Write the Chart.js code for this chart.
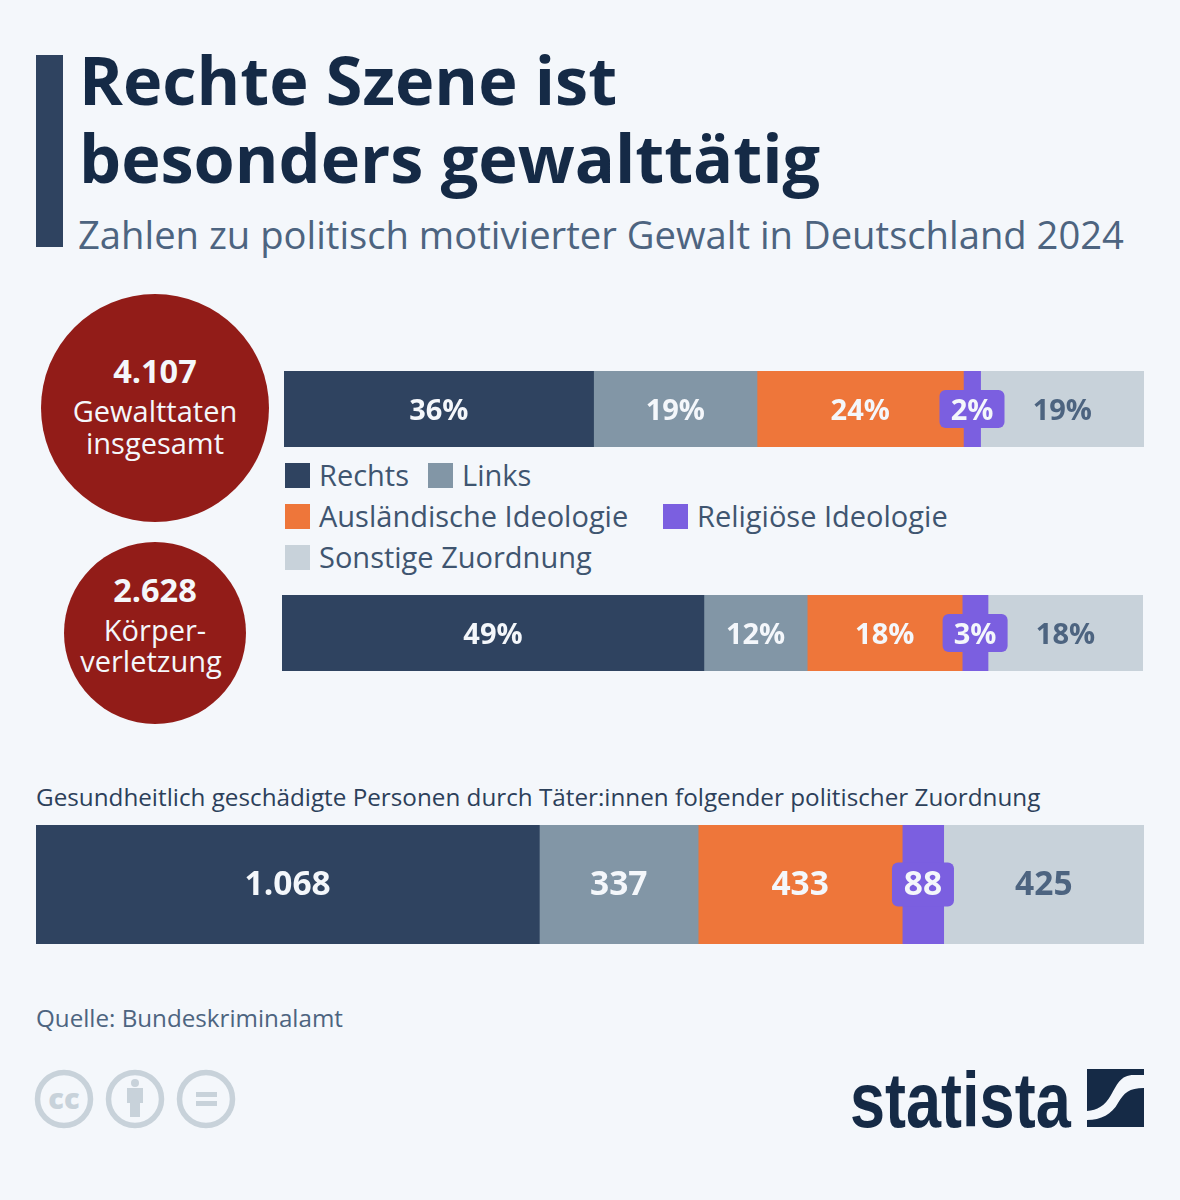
<!DOCTYPE html>
<html lang="de">
<head>
<meta charset="utf-8">
<title>Rechte Szene ist besonders gewalttätig</title>
<script src="https://cdn.jsdelivr.net/npm/chart.js@4"></script>
<style>
  html, body { margin: 0; padding: 0; background: #f4f7fb; }
  #page { position: relative; width: 1180px; height: 1200px; overflow: hidden; font-family: "Open Sans", sans-serif; }
  .t { position: absolute; white-space: nowrap; }
  .box { position: absolute; }
  canvas { display: block; }
  .title { left: 79px; color: #152a46; font-weight: 700; font-size: 66.6px; line-height: 78px; }
  .circle { position: absolute; border-radius: 50%; background: #921c18; color: #f4f7fb; text-align: center; }
  .circle .t { left: 0; right: 0; line-height: 32px; font-size: 29px; }
  .circle b { font-size: 32.5px; font-weight: 700; }
  .lg { color: #3f5570; font-size: 29px; line-height: 34px; }
  .sw { position: absolute; width: 25px; height: 25px; }
</style>
</head>
<body>
<div id="page">
  <div class="box" style="left:36px;top:55px;width:27px;height:192px;background:#2f4360"></div>
  <div class="t title" style="top:41px">Rechte Szene ist<br>besonders gewalttätig</div>
  <div class="t" style="left:78px;top:208px;font-size:38.2px;line-height:52px;color:#4d6480">Zahlen zu politisch motivierter Gewalt in Deutschland 2024</div>

  <div class="circle" style="left:41px;top:294px;width:228px;height:228px">
    <div class="t" style="top:61px"><b>4.107</b></div>
    <div class="t" style="top:101px">Gewalttaten<br>insgesamt</div>
  </div>
  <div class="circle" style="left:64px;top:542px;width:182px;height:182px">
    <div class="t" style="top:32px"><b>2.628</b></div>
    <div class="t" style="top:72px;line-height:31px">Körper-<br><span style="position:relative;left:-4px">verletzung</span></div>
  </div>

  <div class="box" style="left:284px;top:371px;width:860px;height:76px"><canvas id="gewalt" width="860" height="76"></canvas></div>
  <div class="box" style="left:282px;top:595px;width:861px;height:76px"><canvas id="koerper" width="861" height="76"></canvas></div>
  <div class="box" style="left:36px;top:825px;width:1108px;height:119px"><canvas id="personen" width="1108" height="119"></canvas></div>

  <div id="legend"></div>

  <div class="t" style="left:36px;top:781px;font-size:24.25px;line-height:32px;color:#2c405a">Gesundheitlich geschädigte Personen durch Täter:innen folgender politischer Zuordnung</div>
  <div class="t" style="left:36px;top:1003px;font-size:24.2px;line-height:30px;color:#4d6480">Quelle: Bundeskriminalamt</div>

  <svg class="box" style="left:30px;top:1065px" width="215" height="70" viewBox="0 0 215 70">
    <g fill="none" stroke="#c8d2da" stroke-width="5.5">
      <circle cx="34" cy="34" r="26.5"/>
      <circle cx="105" cy="34" r="26.5"/>
      <circle cx="176" cy="34" r="26.5"/>
    </g>
    <text x="34" y="44" text-anchor="middle" font-family="Open Sans" font-weight="800" font-size="29" fill="#c8d2da">cc</text>
    <g fill="#c8d2da">
      <circle cx="105" cy="18" r="4"/>
      <path d="M97 23h16v15h-3v14h-10v-14h-3z"/>
      <rect x="166" y="27" width="21" height="5"/>
      <rect x="166" y="36" width="21" height="5"/>
    </g>
  </svg>

  <div class="t" style="left:850px;top:1055px;font-family:'Liberation Sans';font-weight:700;font-size:78px;line-height:90px;color:#152a46;transform:scaleX(.808);transform-origin:left center">statista</div>
  <svg class="box" style="left:1087px;top:1069px" width="58" height="59" viewBox="0 0 58 59">
    <path fill="#152a46" d="M0 0H57V6H47C33 6 30 16 24 26C18 37 10 41 0 42Z"/>
    <path fill="#152a46" d="M57 19V58H0V51C14 51 25 45 31 34C37 24 42 19 57 19Z"/>
  </svg>
</div>

<script>
const seriesNames = ["Rechts", "Links", "Ausländische Ideologie", "Religiöse Ideologie", "Sonstige Zuordnung"];
const seriesColors = ["#2f4360", "#8296a6", "#ee763a", "#7b5fe0", "#c8d2da"];
const labelColors = ["#f4f7fb", "#f4f7fb", "#f4f7fb", "#f4f7fb", "#4d6480"];

const gewalttaten = [36, 19, 24, 2, 19];
const koerperverletzung = [49, 12, 18, 3, 18];
const geschaedigte = [1068, 337, 433, 88, 425];

// Legende: Spalte, Zeile
const legendSpots = [[285, 475], [428, 475], [285, 516], [663, 516], [285, 557]];

const legend = document.getElementById("legend");
seriesNames.forEach((name, i) => {
  const sw = document.createElement("div");
  sw.className = "sw";
  sw.style.left = legendSpots[i][0] + "px";
  sw.style.top = (legendSpots[i][1] - 12) + "px";
  sw.style.background = seriesColors[i];
  legend.appendChild(sw);
  const tx = document.createElement("div");
  tx.className = "t lg";
  tx.style.left = (legendSpots[i][0] + 34) + "px";
  tx.style.top = (legendSpots[i][1] - 17) + "px";
  tx.textContent = name;
  legend.appendChild(tx);
});

// Werte in die Balken schreiben, der lila Wert bekommt ein Schildchen
const valueLabels = {
  id: "valueLabels",
  afterDatasetsDraw(chart, args, opts) {
    const ctx = chart.ctx;
    ctx.save();
    ctx.textAlign = "center";
    ctx.textBaseline = "middle";
    ctx.font = "700 " + opts.size + "px 'Open Sans'";
    chart.data.datasets.forEach((ds, i) => {
      const bar = chart.getDatasetMeta(i).data[0];
      const cx = (bar.x + bar.base) / 2;
      const cy = bar.y;
      if (i === 3) {
        ctx.fillStyle = seriesColors[3];
        ctx.beginPath();
        ctx.roundRect(cx - opts.badgeW / 2, cy - opts.badgeH / 2, opts.badgeW, opts.badgeH, 6);
        ctx.fill();
      }
      ctx.fillStyle = labelColors[i];
      ctx.fillText(opts.format(ds.data[0]), cx, cy + opts.dy);
    });
    ctx.restore();
  }
};

function stackedBar(id, values, labelOpts) {
  const total = values.reduce((a, b) => a + b, 0);
  return new Chart(document.getElementById(id), {
    type: "bar",
    data: {
      labels: [id],
      datasets: seriesNames.map((name, i) => ({
        label: name,
        data: [values[i]],
        backgroundColor: seriesColors[i],
        borderWidth: 0,
        barPercentage: 1,
        categoryPercentage: 1
      }))
    },
    options: {
      indexAxis: "y",
      responsive: false,
      animation: false,
      events: [],
      layout: { padding: 0 },
      clip: false,
      plugins: {
        legend: { display: false },
        tooltip: { enabled: false },
        valueLabels: labelOpts
      },
      scales: {
        x: { stacked: true, display: false, min: 0, max: total },
        y: { stacked: true, display: false }
      }
    },
    plugins: [valueLabels]
  });
}

const pct = v => v + "%";
const dotted = v => v.toLocaleString("de-DE");

document.fonts.ready.then(() => {
  stackedBar("gewalt", gewalttaten, { size: 29, badgeW: 65, badgeH: 38, dy: 3, format: pct });
  stackedBar("koerper", koerperverletzung, { size: 29, badgeW: 65, badgeH: 38, dy: 3, format: pct });
  stackedBar("personen", geschaedigte, { size: 33.5, badgeW: 62, badgeH: 44, dy: 1, format: dotted });
});
</script>
</body>
</html>
